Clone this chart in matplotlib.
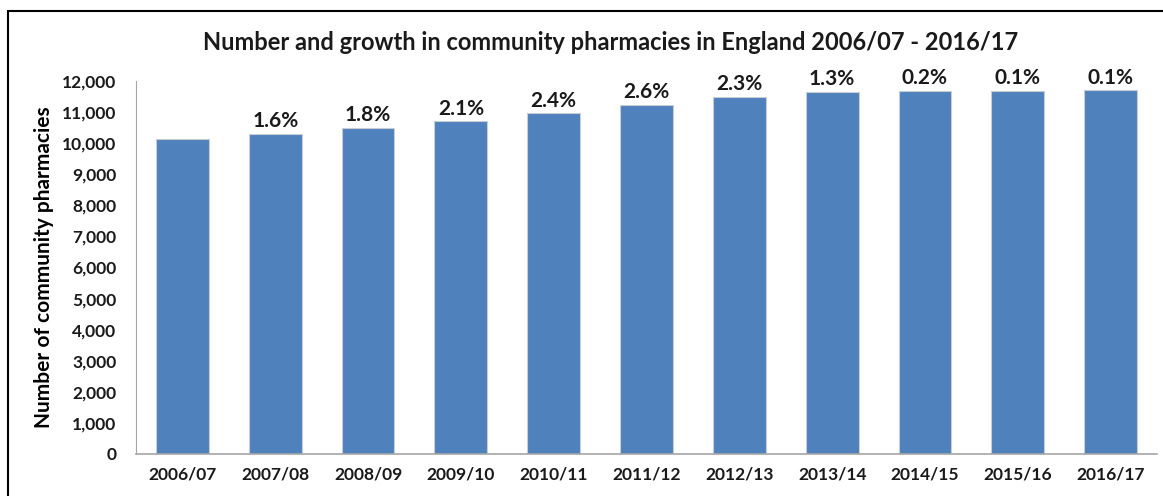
import matplotlib.pyplot as plt
from matplotlib.patches import Rectangle
from matplotlib import ticker

years = ['2006/07', '2007/08', '2008/09', '2009/10', '2010/11', '2011/12',
         '2012/13', '2013/14', '2014/15', '2015/16', '2016/17']
pharmacies = [10135, 10296, 10482, 10700, 10957, 11242, 11500, 11650, 11674, 11686, 11698]
growth = ['', '1.6%', '1.8%', '2.1%', '2.4%', '2.6%', '2.3%', '1.3%', '0.2%', '0.1%', '0.1%']

plt.rcParams['font.family'] = ['Lato', 'DejaVu Sans']

fig = plt.figure(figsize=(11.63, 4.96), dpi=100)
ax = fig.add_axes([136 / 1163, 1 - 454 / 496, 1021 / 1163, 373 / 496])

x = range(len(years))
ax.bar(x, pharmacies, width=0.57, color='#4F81BD', edgecolor='#C8CDD3', linewidth=0.8, zorder=2)

# growth labels above each bar
for i, (v, g) in enumerate(zip(pharmacies, growth)):
    if g:
        ax.text(i, v + 90, g, ha='center', va='bottom', fontsize=15,
                fontweight='bold', color='#1a1a1a')

ax.set_xlim(-0.5, len(years) - 0.5)
ax.set_ylim(0, 12000)
ax.set_xticks(list(x))
ax.set_xticklabels(years, fontsize=12.5, fontweight='bold')
ax.yaxis.set_major_locator(ticker.MultipleLocator(1000))
ax.yaxis.set_major_formatter(ticker.StrMethodFormatter('{x:,.0f}'))
for lbl in ax.get_yticklabels():
    lbl.set_fontsize(12.5)
    lbl.set_fontweight('bold')
ax.tick_params(axis='both', length=0, colors='#1a1a1a')
ax.tick_params(axis='x', pad=9)
ax.tick_params(axis='y', pad=14)

for s in ['top', 'right']:
    ax.spines[s].set_visible(False)
ax.spines['left'].set_color('#A6A6A6')
ax.spines['bottom'].set_color('#A6A6A6')
ax.spines['bottom'].set_linewidth(1.2)

ax.set_ylabel('Number of community pharmacies', fontsize=15, fontweight='bold', labelpad=6)

fig.text(611 / 1163, 1 - 42 / 496, 'Number and growth in community pharmacies in England 2006/07 - 2016/17',
         ha='center', va='center', fontsize=17, fontweight='bold', color='#1a1a1a')

# outer frame
fig.patches.append(Rectangle((8 / 1163, -0.05), 1.1, 1 - 11 / 496 + 0.05,
                             transform=fig.transFigure, fill=False,
                             edgecolor='black', linewidth=1.5))

fig.savefig('out.png', dpi=100)
